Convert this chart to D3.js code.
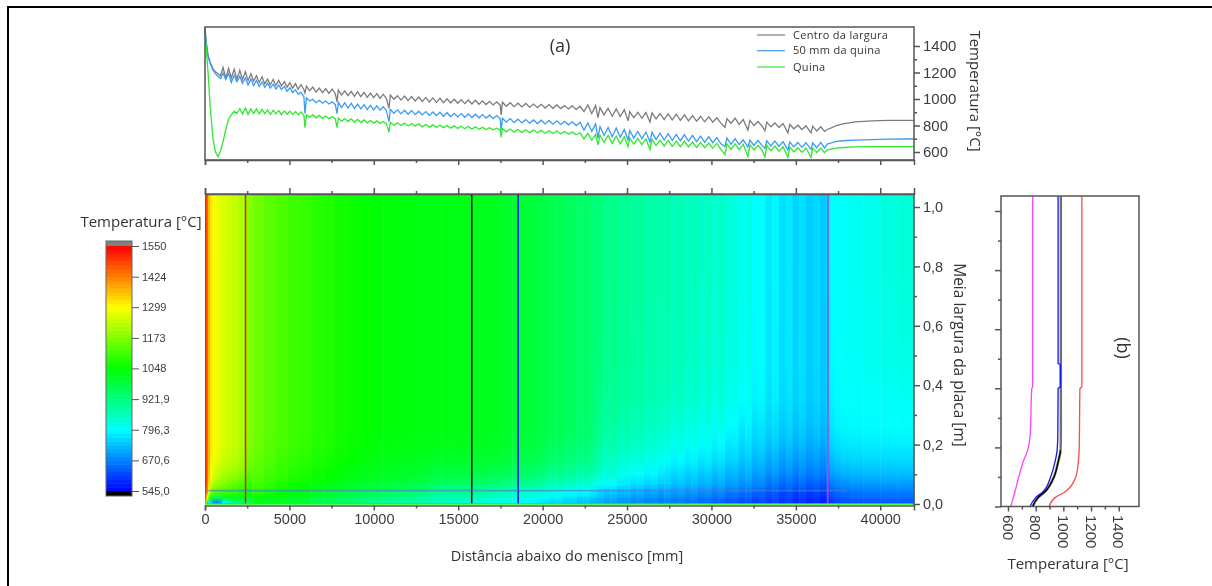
<!DOCTYPE html>
<html>
<head>
<meta charset="utf-8">
<title>Temperatura</title>
<script src="https://cdn.jsdelivr.net/npm/d3@7"></script>
<style>
    html, body { margin: 0; padding: 0; background: #fff; overflow: hidden; }
    svg { display: block; filter: blur(0.35px); }
    .num { font-family: "Liberation Sans", Arial, sans-serif; fill: #3c3c3c; }
    .title { font-family: "Open Sans", sans-serif; fill: #333; }
    .axis path, .axis line { stroke: #555; stroke-width: 1.5; }
    .axis text { font-family: "Liberation Sans", Arial, sans-serif; fill: #3c3c3c; }
</style>
</head>
<body>
<script>
// distance down the strand [mm], shared by the three curves of panel (a)
const distances = [
    0,60,180,300,470,620,770,920,1070,1230,
    1400,1560,1730,1890,2060,2220,2390,2550,2720,2880,
    3050,3210,3380,3540,3710,3870,4040,4200,4370,4530,
    4700,4860,5030,5190,5360,5520,5690,5860,5920,6010,
    6200,6390,6580,6770,6960,7150,7340,7530,7720,7820,
    7900,8090,8280,8470,8660,8850,9040,9230,9420,9610,
    9800,9990,10180,10370,10560,10750,10900,10980,11190,11400,
    11610,11820,12030,12240,12450,12660,12870,13080,13290,13500,
    13710,13920,14130,14340,14550,14760,14970,15180,15390,15600,
    15810,16020,16230,16440,16650,16860,17070,17280,17490,17540,
    17620,17850,18080,18310,18540,18770,19000,19230,19460,19690,
    19920,20150,20380,20610,20840,21070,21300,21530,21760,21990,
    22220,22450,22680,22910,23140,23280,23400,23640,23880,24120,
    24360,24600,24840,25060,25160,25400,25640,25880,26120,26360,
    26480,26720,26960,27200,27440,27680,27920,28160,28400,28640,
    28880,29120,29360,29600,29840,30080,30320,30560,30800,30920,
    31160,31400,31640,31880,32160,32280,32520,32760,33000,33170,
    33280,33520,33760,34000,34240,34530,34640,34880,35120,35360,
    35600,35900,36000,36240,36480,36700,36850,37100,37400,37800,
    38500,39500,40500,41500,42000
];
const centerTemps = [
    1540,1440,1330,1280,1230,1205,1190,1175,1238,1160,
    1232,1158,1225,1150,1218,1148,1205,1140,1190,1135,
    1175,1125,1168,1115,1150,1108,1148,1102,1140,1098,
    1132,1090,1124,1082,1116,1074,1108,1070,1045,1098,
    1062,1090,1052,1082,1048,1078,1042,1074,1040,978,
    1068,1030,1062,1025,1058,1020,1055,1018,1050,1012,
    1045,1010,1040,1005,1035,1002,930,1030,998,1025,
    992,1022,988,1018,985,1015,982,1012,978,1008,
    975,1005,972,1002,970,998,968,995,965,992,
    962,990,960,986,958,982,955,978,952,880,
    975,945,972,942,968,940,966,938,962,935,
    960,932,958,930,955,928,950,925,948,920,
    945,905,955,890,950,860,935,880,930,870,
    925,868,920,835,905,860,900,855,898,825,
    895,850,890,845,888,842,885,838,880,835,
    875,832,870,828,865,825,858,818,785,852,
    815,855,808,845,765,838,800,830,795,760,
    825,790,820,785,815,745,808,775,802,770,
    798,745,795,758,790,755,770,782,800,812,
    828,835,838,838,838
];
const mid50Temps = [
    1540,1435,1320,1270,1220,1190,1170,1155,1195,1148,
    1192,1125,1180,1130,1172,1118,1160,1105,1152,1100,
    1140,1095,1128,1088,1120,1082,1112,1075,1105,1072,
    1095,1058,1085,1048,1070,1035,1052,1015,890,1008,
    985,998,972,990,968,985,962,978,958,890,
    975,935,972,932,968,928,962,925,958,920,
    952,918,948,915,942,910,830,922,892,918,
    888,915,885,912,882,908,880,905,876,902,
    874,900,870,896,868,892,865,890,862,888,
    860,885,858,882,856,878,852,875,850,765,
    855,825,852,822,848,820,845,818,842,815,
    840,812,838,810,835,808,832,805,828,800,
    825,765,820,755,812,705,792,725,785,715,
    780,712,770,690,762,705,755,702,750,675,
    748,695,742,690,738,688,733,685,730,682,
    725,678,720,672,715,670,708,662,640,705,
    658,700,655,692,638,690,650,688,648,628,
    685,645,682,642,678,615,675,640,672,635,
    670,620,668,632,672,630,660,668,680,685,
    690,694,697,698,698
];
const cornerTemps = [
    1500,1400,1205,953,705,600,565,610,678,770,
    850,880,908,890,928,886,932,884,925,890,
    926,888,922,890,918,884,915,888,912,882,
    910,885,908,884,905,880,902,876,783,880,
    862,880,858,876,854,872,852,868,850,783,
    856,832,852,830,850,826,846,824,842,820,
    838,818,835,816,830,812,750,825,802,820,
    800,818,796,815,794,812,790,808,788,805,
    786,802,784,800,780,798,778,795,776,792,
    774,790,772,786,770,784,768,780,766,712,
    775,752,773,750,770,748,768,746,765,745,
    763,742,760,740,758,738,755,735,750,730,
    745,700,740,690,732,653,728,672,725,665,
    720,662,715,640,706,660,702,655,698,620,
    695,650,690,645,688,642,683,640,680,638,
    675,635,672,632,668,628,665,620,580,662,
    620,662,618,658,565,655,615,650,612,562,
    648,610,645,605,640,560,638,600,632,598,
    630,558,628,596,630,595,615,622,630,634,
    638,640,641,641,641
];
const curveNames = ["Centro da largura", "50 mm da quina", "Quina"];
const curveColors = ["#7c7c7c", "#3a9bf5", "#2fe82f"];

// heat map: left edge of each column [mm] and the width position read in each column [m]
const heatColumns = [
    0,30,100,180,300,450,600,800,1000,1300,1600,2000,2400,
    2800,3500,4200,4900,5600,6300,7000,7700,8400,9100,9800,10500,11200,11900,
    12600,13300,14000,14700,15400,16100,16800,17500,18200,18900,19600,
    20000,20400,20800,21200,21600,22000,22400,22800,
    23200,23600,24000,24400,24800,25200,25600,26000,26400,26800,
    27200,27600,28000,28400,28800,29200,29600,30000,30400,30800,31200,31600,32000,32400,
    32800,33200,33600,34000,34400,34800,35200,35600,36000,36400,36800,
    37000,37300,37700,38200,39000,40000,41000
];
const heatColumnEnd = 42000;
const heatWidths = [0.004, 0.02, 0.04, 0.065, 0.1, 0.145, 0.2, 0.265, 0.35, 0.475, 0.8];
const heatTopWidth = 1.044;
// one line per column, from the corner up to the centre
const heatTemps = [
    [1450,1500,1530,1535,1540,1540,1540,1540,1540,1540,1540],
    [1250,1400,1470,1490,1500,1500,1500,1500,1500,1500,1500],
    [1050,1300,1400,1430,1440,1445,1450,1450,1450,1450,1450],
    [900,1150,1280,1340,1360,1370,1370,1370,1370,1370,1370],
    [760,1050,1180,1250,1295,1310,1320,1320,1320,1320,1320],
    [660,960,1130,1210,1265,1285,1295,1295,1295,1295,1295],
    [660,960,1120,1200,1245,1270,1285,1285,1285,1285,1285],
    [700,980,1110,1180,1230,1255,1270,1270,1270,1270,1270],
    [790,1000,1110,1170,1215,1245,1262,1262,1262,1262,1262],
    [860,1010,1100,1150,1200,1235,1250,1250,1250,1250,1250],
    [900,1020,1090,1135,1190,1225,1238,1238,1238,1238,1238],
    [930,1020,1075,1115,1170,1205,1215,1215,1215,1215,1215],
    [950,1010,1055,1090,1130,1160,1178,1180,1180,1180,1180],
    [1020,1050,1085,1110,1130,1145,1155,1158,1158,1158,1158],
    [1010,1035,1065,1090,1108,1122,1132,1135,1135,1135,1135],
    [1000,1025,1050,1075,1095,1108,1118,1122,1122,1122,1122],
    [990,1012,1036,1060,1080,1094,1104,1108,1108,1108,1108],
    [985,1005,1028,1052,1072,1086,1096,1100,1100,1100,1100],
    [965,990,1014,1038,1058,1072,1081,1085,1085,1085,1085],
    [955,980,1005,1030,1050,1065,1074,1078,1078,1078,1078],
    [940,965,992,1018,1040,1054,1062,1066,1066,1066,1066],
    [930,955,982,1010,1032,1046,1054,1058,1058,1058,1058],
    [920,945,975,1002,1024,1038,1046,1050,1050,1050,1050],
    [908,935,965,995,1018,1032,1040,1044,1044,1044,1044],
    [900,925,958,990,1014,1028,1036,1040,1040,1040,1040],
    [890,915,950,985,1010,1024,1032,1036,1036,1036,1036],
    [880,908,942,980,1006,1020,1030,1034,1034,1034,1034],
    [870,895,932,972,1000,1014,1025,1030,1030,1030,1030],
    [858,878,908,950,986,1010,1026,1032,1032,1032,1032],
    [850,872,902,944,982,1006,1022,1028,1028,1028,1028],
    [848,870,902,944,984,1008,1024,1030,1030,1030,1030],
    [840,862,896,940,980,1004,1020,1026,1026,1026,1026],
    [832,854,890,935,976,1000,1016,1022,1022,1022,1022],
    [820,844,880,928,970,996,1012,1018,1018,1018,1018],
    [810,834,870,918,960,986,1002,1008,1008,1008,1008],
    [800,824,860,908,952,978,994,1000,1000,1000,1000],
    [790,814,850,898,944,970,986,992,992,992,992],
    [780,804,842,890,936,962,978,984,984,984,984],
    [768,793,828,873,918,948,968,978,978,978,978],
    [756,781,816,861,906,936,956,966,966,966,966],
    [760,785,820,865,910,940,960,970,970,970,970],
    [745,770,805,850,895,925,945,955,955,955,955],
    [748,773,808,853,898,928,948,958,958,958,958],
    [732,757,792,837,882,912,932,942,942,942,942],
    [736,761,796,841,886,916,936,946,946,946,946],
    [720,745,780,825,870,900,920,930,930,930,930],
    [718,733,758,810,845,870,892,905,916,924,928],
    [702,717,742,794,829,854,876,889,900,908,912],
    [706,721,746,798,833,858,880,893,904,912,916],
    [690,705,730,775,810,838,860,875,888,896,900],
    [696,711,736,776,811,841,866,881,894,902,906],
    [680,695,720,760,795,825,850,865,878,886,890],
    [686,701,726,766,801,831,856,871,884,892,896],
    [670,685,710,750,785,815,840,855,868,876,880],
    [676,691,716,756,791,821,846,861,874,882,886],
    [662,677,702,742,777,807,832,847,860,868,872],
    [675,690,715,745,770,800,825,845,862,872,880],
    [661,676,701,731,756,786,811,831,848,858,866],
    [669,684,709,739,764,794,819,839,856,866,874],
    [653,668,693,723,748,778,803,823,840,850,858],
    [661,676,701,731,756,786,811,831,848,858,866],
    [645,660,685,715,740,770,795,815,832,842,850],
    [653,668,693,723,748,778,803,823,840,850,858],
    [635,650,675,705,730,760,785,805,822,832,840],
    [645,660,685,715,740,770,795,815,832,842,850],
    [625,640,665,695,720,750,775,795,812,822,830],
    [632,648,672,702,727,755,778,798,815,825,830],
    [615,630,655,685,710,736,758,778,796,806,812],
    [625,640,665,695,720,745,768,788,805,816,822],
    [605,620,645,675,700,725,748,768,785,792,795],
    [622,632,647,677,707,732,757,775,790,798,800],
    [600,610,625,655,685,710,735,755,768,774,775],
    [612,622,637,667,697,722,747,765,780,787,788],
    [590,600,615,645,675,700,725,745,758,764,765],
    [604,614,629,659,689,714,739,757,770,777,778],
    [582,592,607,637,667,692,717,737,750,754,755],
    [596,606,621,651,681,706,731,750,762,767,768],
    [578,588,603,633,663,688,713,732,744,747,748],
    [590,600,615,645,675,700,725,743,755,759,760],
    [576,586,601,631,661,686,711,730,741,744,745],
    [585,595,610,640,670,695,720,735,746,749,750],
    [600,615,635,665,700,730,755,775,785,793,797],
    [612,628,648,678,712,742,768,785,793,798,800],
    [622,636,656,686,720,750,775,790,797,801,803],
    [628,642,662,692,725,754,778,792,799,805,808],
    [632,645,665,695,728,757,780,794,801,810,815],
    [634,647,667,697,730,758,781,796,803,816,826],
    [635,648,668,698,731,759,782,797,805,822,835]
];

// section lines on the map, and the matching profiles of panel (b)
const sectionDistances = [2400, 15800, 18550, 36900];
const sectionColors = ["#f01818", "#000000", "#1010f0", "#b840f0"];
const profileWidths = [0, 0.03, 0.05, 0.1, 0.15, 0.19, 0.24, 0.4, 0.405, 0.48, 0.485, 1.05];
const profileRed = [897, 940, 1012, 1090, 1108, 1114, 1116, 1120, 1134, 1134, 1134, 1134];
const profileGrey = [778, 817, 867, 932, 962, 980, 982, 982, 982, 982, 982, 982];
const profileBlack = [778, 817, 867, 932, 962, 980];
const profileBlue = [759, 800, 853, 908, 939, 955, 960, 962, 978, 978, 962, 962];
const profileMagenta = [620, 638, 650, 678, 708, 742, 760, 772, 778, 778, 778, 778];
const profileColors = ["#ff4848", "#707070", "#1414f0", "#000000", "#ff40ff"];

const legendTicks = ["1550", "1424", "1299", "1173", "1048", "921,9", "796,3", "670,6", "545,0"];
const legendValues = [1550, 1424, 1299, 1173, 1048, 921.9, 796.3, 670.6, 545];
const colorStops = [545, 796.25, 1047.5, 1298.75, 1550];
const stopColors = ["#0000ff", "#00ffff", "#00ff00", "#ffff00", "#ff0000"];

const svg = d3.select("body").append("svg").attr("width", 1212).attr("height", 586);

// page frame of the original figure
svg.append("path").attr("d", "M8 586V7H1212").attr("fill", "none").attr("stroke", "#000").attr("stroke-width", 2);

const left = 205, right = 914;
const commaFormat = d3.format(".1f");
const comma = v => commaFormat(v).replace(".", ",");

const xScale = d3.scaleLinear().domain([0, 42000]).range([left, right]);
const yTop = d3.scaleLinear().domain([600, 1400]).range([152, 46]);
const yHeat = d3.scaleLinear().domain([0, 1]).range([504, 207]);
const xProfile = d3.scaleLinear().domain([600, 1400]).range([1008, 1118.7]);
const yProfile = d3.scaleLinear().domain([0, 1]).range([506.5, 211]);

const smooth = d3.scaleLinear().domain(colorStops).range(stopColors).clamp(true);
// legend is stepped, 16 steps between stops
const stepSize = 1005 / 64;

// heat map: one rect per column, its colours run up a vertical gradient
const defs = svg.append("defs");
const heatG = svg.append("g");
heatTemps.forEach((col, i) => {
    const grad = defs.append("linearGradient")
        .attr("id", "col" + i)
        .attr("gradientUnits", "userSpaceOnUse")
        .attr("x1", 0).attr("x2", 0)
        .attr("y1", yHeat(0)).attr("y2", yHeat(heatTopWidth));
    grad.selectAll("stop")
        .data(col)
        .enter()
        .append("stop")
        .attr("offset", (d, j) => heatWidths[j] / heatTopWidth)
        .attr("stop-color", d => smooth(d));
    const x0 = heatColumns[i];
    const x1 = i + 1 < heatColumns.length ? heatColumns[i + 1] : heatColumnEnd;
    heatG.append("rect")
        .attr("x", xScale(x0))
        .attr("y", yHeat(heatTopWidth))
        .attr("width", xScale(x1) - xScale(x0) + 0.5)
        .attr("height", yHeat(0) - yHeat(heatTopWidth))
        .attr("fill", `url(#col${i})`);
});

// section lines and the lines for 50 mm, corner and centre
svg.append("g").selectAll("line")
    .data(sectionDistances)
    .enter()
    .append("line")
    .attr("x1", d => xScale(d)).attr("x2", d => xScale(d))
    .attr("y1", yHeat(heatTopWidth)).attr("y2", yHeat(0))
    .attr("stroke", (d, i) => sectionColors[i])
    .attr("stroke-width", 1.5);
svg.append("line")
    .attr("x1", left).attr("x2", xScale(38000))
    .attr("y1", yHeat(0.045)).attr("y2", yHeat(0.045))
    .attr("stroke", "#4a78d8").attr("stroke-opacity", 0.6).attr("stroke-width", 1.6);
svg.append("line")
    .attr("x1", left).attr("x2", right)
    .attr("y1", yHeat(0)).attr("y2", yHeat(0))
    .attr("stroke", "#20f020").attr("stroke-width", 1.6);
svg.append("line")
    .attr("x1", left).attr("x2", right)
    .attr("y1", yHeat(heatTopWidth)).attr("y2", yHeat(heatTopWidth))
    .attr("stroke", "#8a8f98").attr("stroke-width", 1.8);

// heat map axes
const heatBottom = d3.axisBottom(xScale).tickValues(d3.range(0, 42001, 2500))
    .tickFormat(d => d % 5000 ? "" : d).tickSizeOuter(0).tickSize(5).tickPadding(3);
const gBottom = svg.append("g").attr("class", "axis").attr("transform", "translate(0,505.5)").call(heatBottom);
gBottom.selectAll("text").style("font-size", "14.5px");
gBottom.selectAll(".tick").filter(d => d % 5000).select("line").attr("y2", 3);

const heatTopAxis = d3.axisTop(xScale).tickValues(d3.range(0, 42001, 2500)).tickFormat("").tickSizeOuter(0).tickSize(6);
const gTop = svg.append("g").attr("class", "axis").attr("transform", "translate(0,194)").call(heatTopAxis);
gTop.selectAll(".tick").filter(d => d % 5000).select("line").attr("y2", -3);

const heatRight = d3.axisRight(yHeat).tickValues(d3.range(0, 1.01, 0.1))
    .tickFormat((d, i) => i % 2 ? "" : comma(d)).tickSizeOuter(0).tickSize(6).tickPadding(3);
const gRight = svg.append("g").attr("class", "axis").attr("transform", `translate(${right},0)`).call(heatRight);
gRight.selectAll("text").style("font-size", "14.5px");
gRight.selectAll(".tick").filter((d, i) => i % 2).select("line").attr("x2", 3);
gRight.select(".domain").attr("d", `M0 ${yHeat(heatTopWidth)}V506`);

// panel (a)
const topG = svg.append("g");
const line = d3.line().x(d => xScale(d[0])).y(d => yTop(d[1]));
[centerTemps, mid50Temps, cornerTemps].forEach((temps, i) => {
    topG.append("path")
        .datum(distances.map((d, k) => [d, temps[k]]))
        .attr("fill", "none")
        .attr("stroke", curveColors[i])
        .attr("stroke-width", 1.3)
        .attr("d", line);
});
topG.append("rect").attr("x", left).attr("y", 27).attr("width", right - left).attr("height", 133)
    .attr("fill", "none").attr("stroke", "#555").attr("stroke-width", 1.5);

const topBottom = d3.axisBottom(xScale).tickValues(d3.range(0, 42001, 2500)).tickFormat("").tickSizeOuter(0).tickSize(5);
const gTopBottom = svg.append("g").attr("class", "axis").attr("transform", "translate(0,160)").call(topBottom);
gTopBottom.selectAll(".tick").filter(d => d % 5000).select("line").attr("y2", 3);

const topRight = d3.axisRight(yTop).tickValues(d3.range(600, 1401, 100))
    .tickFormat(d => d % 200 ? "" : d).tickSizeOuter(0).tickSize(6).tickPadding(3);
const gTopRight = svg.append("g").attr("class", "axis").attr("transform", `translate(${right},0)`).call(topRight);
gTopRight.select(".domain").remove();
gTopRight.selectAll("text").style("font-size", "15px");
gTopRight.selectAll(".tick").filter(d => d % 200).select("line").attr("x2", 3);

// legend of panel (a)
curveNames.forEach((name, i) => {
    const y = [35, 50.7, 67][i];
    svg.append("line").attr("x1", 757).attr("x2", 785).attr("y1", y).attr("y2", y)
        .attr("stroke", curveColors[i]).attr("stroke-width", 1.2);
    svg.append("text").attr("class", "title").attr("x", 793).attr("y", y + 3.5)
        .style("font-size", "11px").style("letter-spacing", "0.3px").text(name);
});

// colour legend
const legendY = d3.scaleLinear().domain([545, 1550]).range([491, 246]);
const legendSteps = d3.range(64).map(i => 545 + i * stepSize);
svg.append("g").selectAll("rect")
    .data(legendSteps)
    .enter()
    .append("rect")
    .attr("x", 106).attr("width", 26)
    .attr("y", d => legendY(d + stepSize))
    .attr("height", d => legendY(d) - legendY(d + stepSize) + 0.5)
    .attr("fill", d => smooth(d + stepSize / 2));
svg.append("rect").attr("x", 106).attr("y", 241).attr("width", 26).attr("height", 5).attr("fill", "#808080");
svg.append("rect").attr("x", 106).attr("y", 491).attr("width", 26).attr("height", 5).attr("fill", "#000");
svg.append("rect").attr("x", 106).attr("y", 241).attr("width", 26).attr("height", 255)
    .attr("fill", "none").attr("stroke", "#666").attr("stroke-width", 1);
const legendAxis = d3.axisRight(legendY).tickValues(legendValues)
    .tickFormat((d, i) => legendTicks[i]).tickSizeOuter(0).tickSize(7).tickPadding(3);
const gLegend = svg.append("g").attr("class", "axis").attr("transform", "translate(132,0)").call(legendAxis);
gLegend.select(".domain").remove();
gLegend.selectAll("line").style("stroke-width", 1);
gLegend.selectAll("text").style("font-size", "11px");

// panel (b)
const profileLine = d3.line().x(d => xProfile(d[1])).y(d => yProfile(d[0])).curve(d3.curveMonotoneY);
const profiles = [profileRed, profileGrey, profileBlue, profileBlack, profileMagenta];
profiles.forEach((temps, i) => {
    svg.append("path")
        .datum(temps.map((t, k) => [profileWidths[k], t]))
        .attr("fill", "none")
        .attr("stroke", profileColors[i])
        .attr("stroke-width", i === 1 ? 2.4 : 1.3)
        .attr("d", profileLine);
});
svg.append("rect").attr("x", 1001).attr("y", 196).attr("width", 138).attr("height", 310.5)
    .attr("fill", "none").attr("stroke", "#555").attr("stroke-width", 1.5);

const profBottom = d3.axisBottom(xProfile).tickValues(d3.range(600, 1401, 100)).tickFormat("").tickSizeOuter(0).tickSize(5);
const gProfBottom = svg.append("g").attr("class", "axis").attr("transform", "translate(0,506.5)").call(profBottom);
gProfBottom.select(".domain").remove();
gProfBottom.selectAll(".tick").filter(d => d % 200).select("line").attr("y2", 3);
[600, 800, 1000, 1200, 1400].forEach(v => {
    svg.append("text").attr("class", "num")
        .attr("transform", `translate(${xProfile(v)},515) rotate(90)`)
        .attr("dy", "0.35em")
        .style("font-size", "15px")
        .text(v);
});
const profLeft = d3.axisLeft(yProfile).tickValues(d3.range(0, 1.01, 0.1)).tickFormat("").tickSizeOuter(0).tickSize(6);
const gProfLeft = svg.append("g").attr("class", "axis").attr("transform", "translate(1001,0)").call(profLeft);
gProfLeft.select(".domain").remove();
gProfLeft.selectAll(".tick").filter((d, i) => i % 2).select("line").attr("x2", -3);

// titles
function title(txt, x, y, size, rotate) {
    svg.append("text").attr("class", "title")
        .attr("text-anchor", "middle")
        .attr("transform", `translate(${x},${y})` + (rotate ? ` rotate(${rotate})` : ""))
        .style("font-size", size + "px")
        .text(txt);
}
title("(a)", 560, 52, 18);
title("(b)", 1117, 348, 18, 90);
title("Temperatura [°C]", 970, 91, 15, 90);
title("Meia largura da placa [m]", 954, 355, 15.5, 90);
title("Distância abaixo do menisco [mm]", 567, 561, 14.5);
title("Temperatura [°C]", 141, 227, 15);
title("Temperatura [°C]", 1068, 569, 15);
</script>
</body>
</html>
